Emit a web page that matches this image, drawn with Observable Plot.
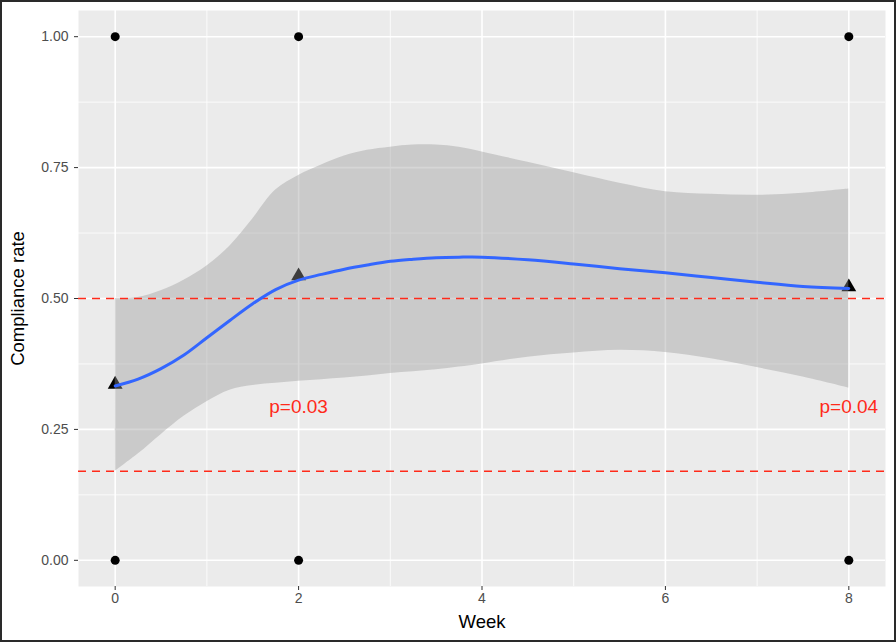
<!DOCTYPE html>
<html>
<head>
<meta charset="utf-8">
<script src="https://cdn.jsdelivr.net/npm/d3@7"></script>
<script src="https://cdn.jsdelivr.net/npm/@observablehq/plot@0.6"></script>
<style>
  body { margin: 0; background: #fff; }
  #chart svg { display: block; outline: 2px solid #2a2a2a; outline-offset: -2px; }
</style>
</head>
<body>
<div id="chart"></div>
<script>
// Raw observations (0/1 compliance)
const obsWeek = [0, 0, 2, 2, 8, 8];
const obsValue = [0, 1, 0, 1, 0, 1];

// Weekly means
const meanWeek = [0, 2, 8];
const meanValue = [0.336, 0.543, 0.522];

// Smoothed fit with confidence band
const fitWeek  = [0, 0.25, 0.5, 0.75, 1, 1.25, 1.5, 1.75, 2, 2.25, 2.5, 2.75, 3, 3.25, 3.5, 3.75, 4, 4.5, 5, 5.5, 6, 6.5, 7, 7.5, 8];
const fitValue = [0.333, 0.346, 0.366, 0.392, 0.425, 0.458, 0.490, 0.517, 0.535, 0.546, 0.556, 0.564, 0.571, 0.575, 0.578, 0.579, 0.579, 0.574, 0.566, 0.557, 0.549, 0.540, 0.531, 0.523, 0.519];
const fitLower = [0.170, 0.203, 0.240, 0.275, 0.303, 0.325, 0.334, 0.338, 0.342, 0.345, 0.348, 0.352, 0.357, 0.360, 0.364, 0.369, 0.375, 0.388, 0.396, 0.401, 0.397, 0.385, 0.368, 0.350, 0.329];
const fitUpper = [0.500, 0.502, 0.515, 0.535, 0.562, 0.600, 0.652, 0.707, 0.735, 0.755, 0.772, 0.783, 0.789, 0.793, 0.793, 0.789, 0.780, 0.760, 0.740, 0.720, 0.704, 0.699, 0.697, 0.701, 0.709];

// Reference lines
const refLines = [0.5, 0.17];

// Annotations
const pLabels = ["p=0.03", "p=0.04"];
const pWeek = [2, 8];
const pY = [0.293, 0.293];

// Ticks and titles
const xTicks = [0, 2, 4, 6, 8];
const xMinor = [1, 3, 5, 7];
const yTicks = [0, 0.25, 0.5, 0.75, 1];
const yMinor = [0.125, 0.375, 0.625, 0.875];
const xTitle = "Week";
const yTitle = "Compliance rate";

const obs = obsWeek.map((w, i) => ({week: w, value: obsValue[i]}));
const means = meanWeek.map((w, i) => ({week: w, value: meanValue[i]}));
const fit = fitWeek.map((w, i) => ({week: w, value: fitValue[i], lo: fitLower[i], hi: fitUpper[i]}));
const ann = pLabels.map((t, i) => ({label: t, week: pWeek[i], y: pY[i]}));

const plot = Plot.plot({
  width: 896,
  height: 642,
  marginLeft: 78,
  marginRight: 11,
  marginTop: 10,
  marginBottom: 56,
  style: {fontFamily: "'Liberation Sans', Arial, sans-serif", background: "#fff"},
  x: {domain: [-0.4, 8.4]},
  y: {domain: [-0.05, 1.05]},
  marks: [
    Plot.frame({fill: "#EBEBEB", stroke: null}),
    Plot.gridX(xMinor, {stroke: "#fff", strokeOpacity: 1, strokeWidth: 0.8}),
    Plot.gridY(yMinor, {stroke: "#fff", strokeOpacity: 1, strokeWidth: 0.8}),
    Plot.gridX(xTicks, {stroke: "#fff", strokeOpacity: 1, strokeWidth: 1.6}),
    Plot.gridY(yTicks, {stroke: "#fff", strokeOpacity: 1, strokeWidth: 1.6}),
    Plot.dot(obs, {x: "week", y: "value", r: 4.5, fill: "#000", stroke: null}),
    Plot.dot(means, {x: "week", y: "value", symbol: "triangle", r: 5.5, fill: "#000", stroke: null}),
    Plot.areaY(fit, {x: "week", y1: "lo", y2: "hi", fill: "#999999", fillOpacity: 0.4, curve: "catmull-rom"}),
    Plot.ruleY(refLines, {stroke: "#FF2A1A", strokeWidth: 1.6, strokeDasharray: "8,6"}),
    Plot.line(fit, {x: "week", y: "value", stroke: "#3366FF", strokeWidth: 3, curve: "catmull-rom"}),
    Plot.text(ann, {x: "week", y: "y", text: "label", fill: "#FF2A1A", fontSize: 19}),
    Plot.axisX(xTicks, {tickSize: 4, tickPadding: 3, stroke: "#333", fill: "#4D4D4D", fontSize: 14, label: null}),
    Plot.axisY(yTicks, {tickSize: 4, tickPadding: 6, stroke: "#333", fill: "#4D4D4D", fontSize: 14, tickFormat: d3.format(".2f"), label: null}),
    Plot.text([xTitle], {frameAnchor: "bottom", dy: 36, lineAnchor: "middle", textAnchor: "middle", fontSize: 18.5, fill: "#000"}),
    Plot.text([yTitle], {frameAnchor: "left", dx: -60, rotate: -90, lineAnchor: "middle", textAnchor: "middle", fontSize: 18.5, fill: "#000"})
  ]
});
document.getElementById("chart").appendChild(plot);
</script>
</body>
</html>
